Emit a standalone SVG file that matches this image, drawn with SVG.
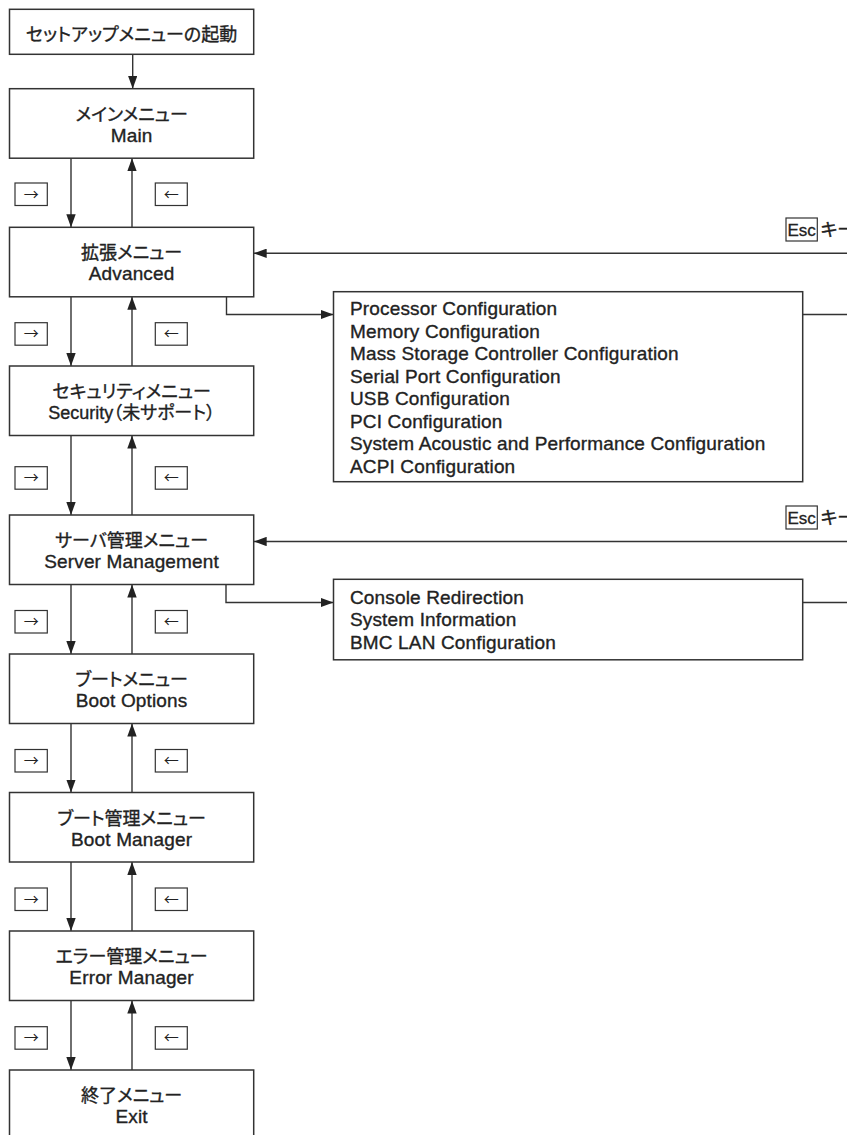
<svg xmlns="http://www.w3.org/2000/svg" width="847" height="1135" viewBox="0 0 847 1135">
<style>
.bx{fill:#fff;stroke:#333;stroke-width:1.5}
.kb{fill:#fff;stroke:#333;stroke-width:1.2}
.ln{fill:none;stroke:#333;stroke-width:1.4}
.t{font-family:"Liberation Sans","Noto Sans CJK JP",sans-serif;font-size:18px;fill:#222;stroke:#222;stroke-width:0.35;font-feature-settings:"palt"}
.l{font-size:19px;letter-spacing:0.15px}
.c{text-anchor:middle}
.ar{font-family:"Noto Sans CJK JP",sans-serif;font-size:15px;fill:#222;text-anchor:middle}
.esc{font-family:"Liberation Sans",sans-serif;font-size:17px;fill:#222;stroke:#222;stroke-width:0.3}
</style>
<defs>
<marker id="ah" viewBox="0 0 13 9.4" refX="13" refY="4.7" markerWidth="13" markerHeight="9.4" markerUnits="userSpaceOnUse" orient="auto">
<path d="M0,0 L13,4.7 L0,9.4 z" fill="#222"/>
</marker>
</defs>
<g id="connectors">
<line class="ln" x1="132.7" y1="54.3" x2="132.7" y2="88.7" marker-end="url(#ah)"/>
<line class="ln" x1="71" y1="158.2" x2="71" y2="227.3" marker-end="url(#ah)"/>
<line class="ln" x1="132" y1="227.3" x2="132" y2="158.2" marker-end="url(#ah)"/>
<line class="ln" x1="71" y1="296.8" x2="71" y2="366" marker-end="url(#ah)"/>
<line class="ln" x1="132" y1="366" x2="132" y2="296.8" marker-end="url(#ah)"/>
<line class="ln" x1="71" y1="435.5" x2="71" y2="515" marker-end="url(#ah)"/>
<line class="ln" x1="132" y1="515" x2="132" y2="435.5" marker-end="url(#ah)"/>
<line class="ln" x1="71" y1="584.5" x2="71" y2="654" marker-end="url(#ah)"/>
<line class="ln" x1="132" y1="654" x2="132" y2="584.5" marker-end="url(#ah)"/>
<line class="ln" x1="71" y1="723.5" x2="71" y2="792.5" marker-end="url(#ah)"/>
<line class="ln" x1="132" y1="792.5" x2="132" y2="723.5" marker-end="url(#ah)"/>
<line class="ln" x1="71" y1="862" x2="71" y2="931" marker-end="url(#ah)"/>
<line class="ln" x1="132" y1="931" x2="132" y2="862" marker-end="url(#ah)"/>
<line class="ln" x1="71" y1="1000.5" x2="71" y2="1070" marker-end="url(#ah)"/>
<line class="ln" x1="132" y1="1070" x2="132" y2="1000.5" marker-end="url(#ah)"/>
<polyline class="ln" points="226.5,296.8 226.5,314.5 333.5,314.5" marker-end="url(#ah)"/>
<polyline class="ln" points="226,584.5 226,602.5 333.5,602.5" marker-end="url(#ah)"/>
<line class="ln" x1="802.7" y1="314.5" x2="847" y2="314.5"/>
<line class="ln" x1="802.7" y1="602.5" x2="847" y2="602.5"/>
<line class="ln" x1="847" y1="253.3" x2="253.7" y2="253.3" marker-end="url(#ah)"/>
<line class="ln" x1="847" y1="541.5" x2="253.7" y2="541.5" marker-end="url(#ah)"/>
</g>
<g id="keys">
<rect class="kb" x="15" y="183" width="32.3" height="22.5"/><text class="ar" x="31.2" y="199.5">→</text>
<rect class="kb" x="155.3" y="183" width="32" height="22.5"/><text class="ar" x="171.3" y="199.5">←</text>
<rect class="kb" x="15" y="322.7" width="32.3" height="22.5"/><text class="ar" x="31.2" y="339.2">→</text>
<rect class="kb" x="155.3" y="322.7" width="32" height="22.5"/><text class="ar" x="171.3" y="339.2">←</text>
<rect class="kb" x="15" y="466.7" width="32.3" height="22.5"/><text class="ar" x="31.2" y="483.2">→</text>
<rect class="kb" x="155.3" y="466.7" width="32" height="22.5"/><text class="ar" x="171.3" y="483.2">←</text>
<rect class="kb" x="15" y="610.5" width="32.3" height="22.5"/><text class="ar" x="31.2" y="627">→</text>
<rect class="kb" x="155.3" y="610.5" width="32" height="22.5"/><text class="ar" x="171.3" y="627">←</text>
<rect class="kb" x="15" y="749.5" width="32.3" height="22.5"/><text class="ar" x="31.2" y="766">→</text>
<rect class="kb" x="155.3" y="749.5" width="32" height="22.5"/><text class="ar" x="171.3" y="766">←</text>
<rect class="kb" x="15" y="888" width="32.3" height="22.5"/><text class="ar" x="31.2" y="904.5">→</text>
<rect class="kb" x="155.3" y="888" width="32" height="22.5"/><text class="ar" x="171.3" y="904.5">←</text>
<rect class="kb" x="15" y="1026.7" width="32.3" height="22.5"/><text class="ar" x="31.2" y="1043.2">→</text>
<rect class="kb" x="155.3" y="1026.7" width="32" height="22.5"/><text class="ar" x="171.3" y="1043.2">←</text>
<rect class="kb" x="786" y="218" width="31.3" height="23"/><text class="esc" x="787.5" y="236">Esc</text>
<text class="t" x="820.5" y="236">キー</text>
<rect class="kb" x="786" y="506" width="31.3" height="23"/><text class="esc" x="787.5" y="524">Esc</text>
<text class="t" x="820.5" y="524">キー</text>
</g>
<g id="n-start"><rect class="bx" x="9.5" y="9.3" width="244.2" height="45"/><text class="t c" x="131.6" y="41">セットアップメニューの起動</text></g>
<g id="n-main"><rect class="bx" x="9.5" y="88.7" width="244.2" height="69.5"/><text class="t c" x="131.6" y="120.7">メインメニュー</text><text class="t l c" x="131.6" y="141.7">Main</text></g>
<g id="n-advanced"><rect class="bx" x="9.5" y="227.3" width="244.2" height="69.5"/><text class="t c" x="131.6" y="259.3">拡張メニュー</text><text class="t l c" x="131.6" y="280.3">Advanced</text></g>
<g id="n-security"><rect class="bx" x="9.5" y="366" width="244.2" height="69.5"/><text class="t c" x="131.6" y="398">セキュリティメニュー</text><text class="t c" x="131.6" y="419">Security（未サポート）</text></g>
<g id="n-server"><rect class="bx" x="9.5" y="515" width="244.2" height="69.5"/><text class="t c" x="131.6" y="547">サーバ管理メニュー</text><text class="t l c" x="131.6" y="568">Server Management</text></g>
<g id="n-bootopt"><rect class="bx" x="9.5" y="654" width="244.2" height="69.5"/><text class="t c" x="131.6" y="686">ブートメニュー</text><text class="t l c" x="131.6" y="707">Boot Options</text></g>
<g id="n-bootmgr"><rect class="bx" x="9.5" y="792.5" width="244.2" height="69.5"/><text class="t c" x="131.6" y="824.5">ブート管理メニュー</text><text class="t l c" x="131.6" y="845.5">Boot Manager</text></g>
<g id="n-error"><rect class="bx" x="9.5" y="931" width="244.2" height="69.5"/><text class="t c" x="131.6" y="963">エラー管理メニュー</text><text class="t l c" x="131.6" y="984">Error Manager</text></g>
<g id="n-exit"><rect class="bx" x="9.5" y="1070" width="244.2" height="75"/><text class="t c" x="131.6" y="1102">終了メニュー</text><text class="t l c" x="131.6" y="1123">Exit</text></g>
<g id="n-adv-sub"><rect class="bx" x="333.5" y="291.7" width="469.2" height="190"/>
<text class="t l" x="350" y="315">Processor Configuration</text>
<text class="t l" x="350" y="337.5">Memory Configuration</text>
<text class="t l" x="350" y="360">Mass Storage Controller Configuration</text>
<text class="t l" x="350" y="382.5">Serial Port Configuration</text>
<text class="t l" x="350" y="405">USB Configuration</text>
<text class="t l" x="350" y="427.5">PCI Configuration</text>
<text class="t l" x="350" y="450">System Acoustic and Performance Configuration</text>
<text class="t l" x="350" y="472.5">ACPI Configuration</text>
</g>
<g id="n-srv-sub"><rect class="bx" x="333.5" y="579.3" width="469.2" height="80.5"/>
<text class="t l" x="350" y="603.5">Console Redirection</text>
<text class="t l" x="350" y="626">System Information</text>
<text class="t l" x="350" y="648.5">BMC LAN Configuration</text>
</g>
</svg>
